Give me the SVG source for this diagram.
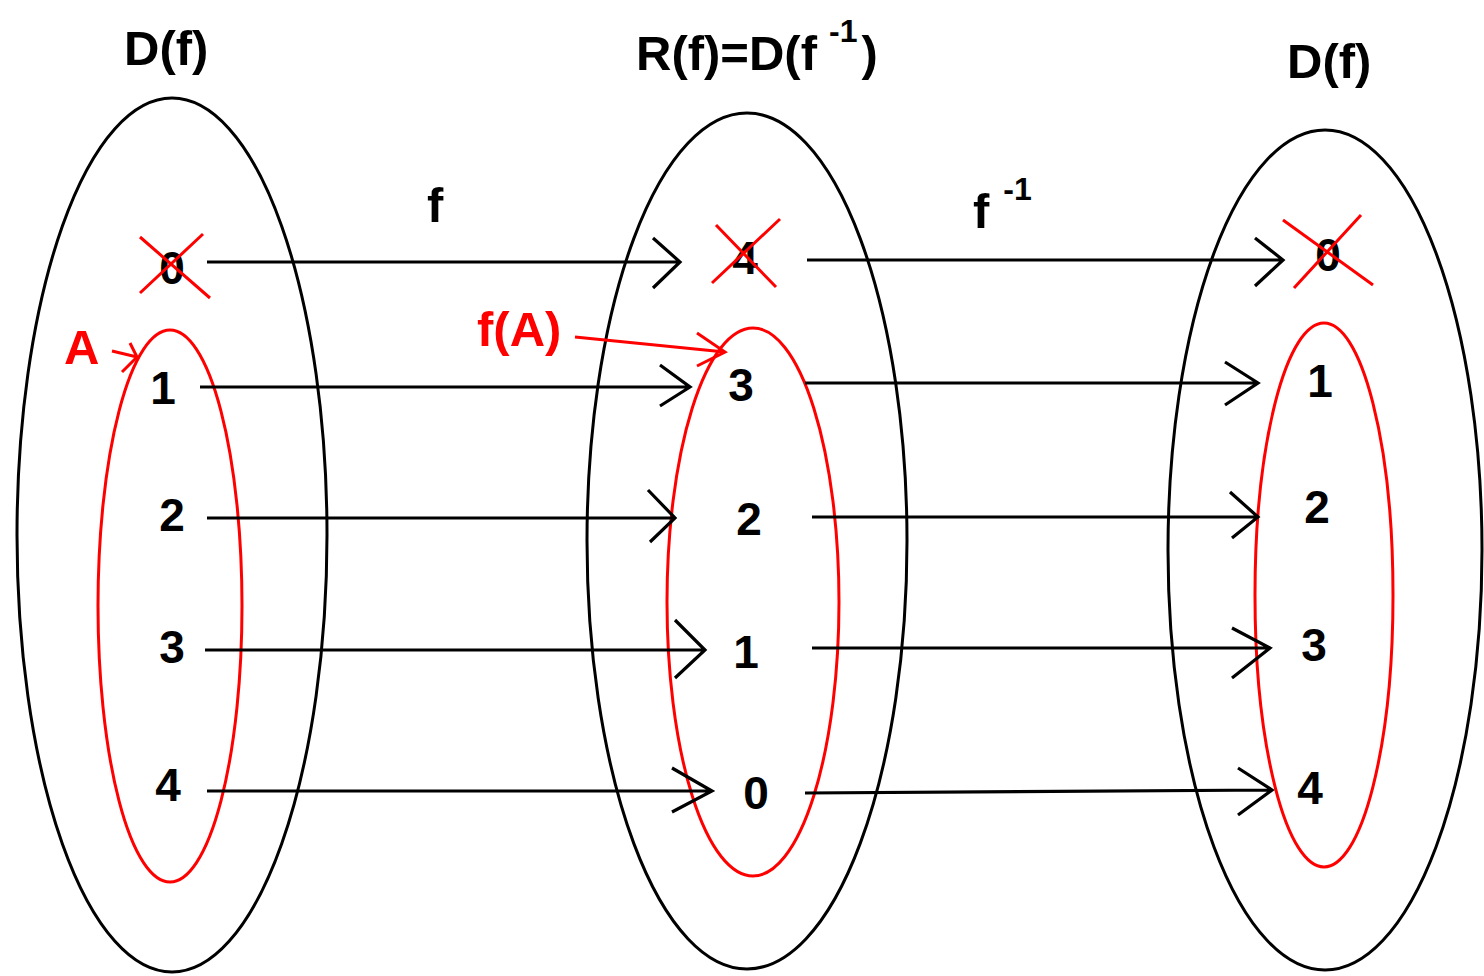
<svg xmlns="http://www.w3.org/2000/svg" width="1484" height="976" viewBox="0 0 1484 976">
<style>
.set{fill:none;stroke:#000;stroke-width:3}
.sub{fill:none;stroke:#ff0000;stroke-width:3}
.t{font-family:"Liberation Sans",Arial,sans-serif;font-weight:bold;font-size:46px;fill:#000}
.l{font-size:49px}
.r{fill:#ff0000}
.sup{font-size:32px}
.a{fill:none;stroke:#000;stroke-width:3.2}
.ra{fill:none;stroke:#ff0000;stroke-width:3}
.x{stroke:#ff0000;stroke-width:3;fill:none}
</style>
<rect width="1484" height="976" fill="#fff"/>
<g id="set-left">
<ellipse class="set" cx="172" cy="535" rx="155" ry="437"/>
<text class="t l" x="124" y="65">D(f)</text>
<text class="t" x="172" y="284" text-anchor="middle">0</text>
<path class="x" d="M140 237L210 298M140 293L203 234"/>
<text class="t" x="163" y="404" text-anchor="middle">1</text>
<text class="t" x="172" y="531" text-anchor="middle">2</text>
<text class="t" x="172" y="663" text-anchor="middle">3</text>
<text class="t" x="168" y="801" text-anchor="middle">4</text>
</g>
<g id="subset-A">
<ellipse class="sub" cx="170" cy="606" rx="72" ry="276"/>
<text class="t l r" x="64" y="364">A</text>
<path class="ra" d="M112 351L137 357M130 343L137 357L122 372"/>
</g>
<g id="set-middle">
<ellipse class="set" cx="747" cy="541" rx="160" ry="428"/>
<text class="t l" x="636" y="70">R(f)=D(f<tspan class="sup" dx="12" dy="-28">-1</tspan><tspan dx="4" dy="28">)</tspan></text>
<text class="t" x="745" y="274" text-anchor="middle">4</text>
<path class="x" d="M716 225L776 287M712 283L780 219"/>
<text class="t" x="741" y="401" text-anchor="middle">3</text>
<text class="t" x="749" y="535" text-anchor="middle">2</text>
<text class="t" x="746" y="668" text-anchor="middle">1</text>
<text class="t" x="756" y="809" text-anchor="middle">0</text>
</g>
<g id="subset-fA">
<ellipse class="sub" cx="753" cy="602" rx="86" ry="274"/>
<text class="t l r" x="477" y="346">f(A)</text>
<path class="ra" d="M575 337L725 352M697 333L725 352L697 366"/>
</g>
<g id="set-right">
<ellipse class="set" cx="1325" cy="550" rx="157" ry="420"/>
<text class="t l" x="1287" y="78">D(f)</text>
<text class="t" x="1328" y="271" text-anchor="middle">0</text>
<path class="x" d="M1283 220L1373 285M1294 288L1361 215"/>
<text class="t" x="1320" y="397" text-anchor="middle">1</text>
<text class="t" x="1317" y="523" text-anchor="middle">2</text>
<text class="t" x="1314" y="661" text-anchor="middle">3</text>
<text class="t" x="1310" y="804" text-anchor="middle">4</text>
</g>
<g id="subset-right">
<ellipse class="sub" cx="1324" cy="595" rx="69" ry="272"/>
</g>
<g id="labels">
<text class="t l" x="427" y="222">f</text>
<text class="t l" x="973" y="228">f<tspan class="sup" dx="14" dy="-28">-1</tspan></text>
</g>
<g id="connectors">
<path class="a" d="M207 262H680M653 238L680 262L653 288"/>
<path class="a" d="M200 387H690M660 365L690 387L660 406"/>
<path class="a" d="M207 518H675M648 490L675 518L650 542"/>
<path class="a" d="M205 650H705M675 620L705 650L675 678"/>
<path class="a" d="M207 791H712M672 768L712 791L672 812"/>
<path class="a" d="M807 260H1283M1255 238L1283 260L1255 286"/>
<path class="a" d="M805 383H1258M1225 362L1258 383L1225 405"/>
<path class="a" d="M812 517H1258M1230 492L1258 517L1232 538"/>
<path class="a" d="M812 648H1270M1232 628L1270 648L1232 678"/>
<path class="a" d="M805 793L1272 790M1238 768L1272 790L1238 815"/>
</g>
</svg>
